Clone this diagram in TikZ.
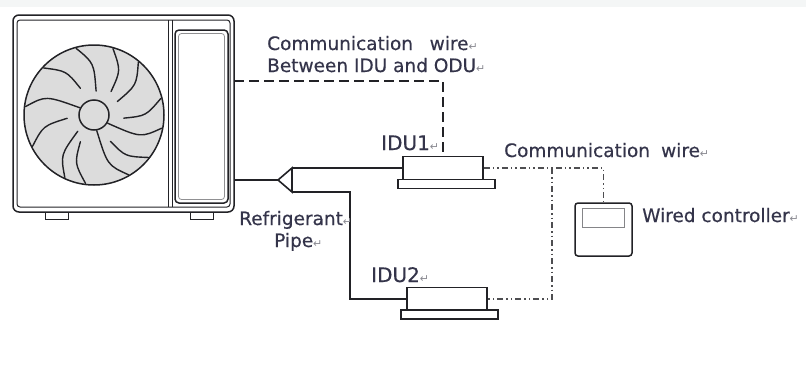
\documentclass[tikz,border=0pt]{standalone}
\usepackage{fontspec}
\setmainfont[FakeBold=0.5]{DejaVu Sans}
\newfontfamily\symfont{DejaVu Sans}
\usetikzlibrary{calc}
\definecolor{ink}{HTML}{222226}
\definecolor{txt}{HTML}{34344A}
\definecolor{fanfill}{HTML}{DCDCDC}
\definecolor{retgray}{HTML}{8A8A92}
\definecolor{band}{HTML}{F4F6F6}
\newcommand\retmark{{\symfont\fontsize{11}{11}\selectfont\color{retgray}↵}}
\tikzset{
  outline/.style={draw=ink, line width=1.5pt},
  thinline/.style={draw=ink, line width=1pt},
  pipe/.style={draw=ink, line width=1.6pt},
  odcomm/.style={draw=ink, line width=1.8pt, dash pattern=on 10pt off 5pt},
  ctrlcomm/.style={draw=ink!80, line width=1.3pt, dash pattern=on 6pt off 3pt on 1.5pt off 3pt on 1.5pt off 3pt},
  iduhead/.style={outline, minimum width=80pt, minimum height=23pt, inner sep=0pt},
  iduplate/.style={outline, minimum width=97pt, minimum height=9pt, inner sep=0pt},
  label/.style={text=txt, inner sep=0pt, anchor=base west, font=\fontsize{18.5}{18.5}\selectfont},
  biglabel/.style={label, font=\fontsize{20}{20}\selectfont},
  blade/.style={draw=ink, line width=1.4pt, line cap=round}
}
\begin{document}
\begin{tikzpicture}[x=1pt,y=-1pt]
\useasboundingbox (0,0) rectangle (806,367);
\fill[band] (0,0) rectangle (806,7);

% outdoor unit casing
\draw[outline, rounded corners=6pt] (13,15) rectangle (234,212);
\draw[thinline, rounded corners=3pt] (17,20) rectangle (230,207);
\draw[thinline] (168,20) -- (168,207);
\draw[thinline] (172,20) -- (172,207);
\draw[outline, rounded corners=4pt] (175,30) rectangle (228,203);
\draw[draw=ink!50, line width=0.8pt, rounded corners=3pt] (178.5,33.5) rectangle (224.5,199.5);
% feet
\draw[thinline] (45,212) rectangle (68,219);
\draw[thinline] (190,212) rectangle (213,219);

% fan: rim, twelve curved blades, hub
\draw[outline, fill=fanfill] (94,115) circle (70);
\begin{scope}[shift={(94,115)}, yscale=-1]
  \foreach \a/\rin in {54/29, 30/27, -6/30, -31/16, -58/31, -80/16,
                       -117/30, -135/23, -173/27, 153/16, 117/30, 85/24} {
    \draw[blade] (\a:\rin) .. controls (\a+5:52) .. (\a+20:69);
  }
\end{scope}
\draw[outline, fill=fanfill] (94,115) circle (15);

% connection points on the outdoor unit
\coordinate (oducomm) at (234,81);
\coordinate (odupipe) at (234,180);

% indoor units
\node[iduhead] (idu1) at (443,168) {};
\node[iduplate] (idu1p) at (446.5,184) {};
\node[iduhead] (idu2) at (447,299) {};
\node[iduplate] (idu2p) at (449.5,314.5) {};

% wired controller
\node[outline, rounded corners=3pt, minimum width=57pt, minimum height=53pt, inner sep=0pt] (ctrl) at (603.5,229.5) {};
\draw[draw=ink!55, line width=1pt] (582,208) rectangle (624,227);

% refrigerant piping with branch joint
\coordinate (tip) at (278,180);
\coordinate (ttop) at (292,168);
\coordinate (tbot) at (292,192);
\coordinate (bend) at (350,192);
\draw[pipe] (odupipe) -- (tip);
\draw[pipe, line join=miter] (tip) -- (ttop) -- (tbot) -- cycle;
\draw[pipe] (ttop) -- (idu1.west);
\draw[pipe] (tbot) -- (bend) |- (idu2.west);

% communication wiring
\draw[odcomm] (oducomm) -| (idu1.north);
\coordinate (jn) at (552,168);
\draw[ctrlcomm] (idu1.east) -| (ctrl.north);
\draw[ctrlcomm] (jn) |- (idu2.east);

% labels
\node[label] (lodu1) at (267,50) {Communication\hspace{0.9em}wire\retmark};
\node[label] (lodu2) at (267,72) {Between IDU and ODU\retmark};
\node[biglabel] (lidu1) at (381,150) {IDU1\retmark};
\node[biglabel] (lidu2) at (371,282) {IDU2\retmark};
\node[label] (lcomm) at (504,157) {Communication\hspace{0.6em}wire\retmark};
\node[label] (lctrl) at (642,222) {Wired controller\retmark};
\node[label] (lref) at (239,225) {Refrigerant\retmark};
\node[label] (lpipe) at (274,247) {Pipe\retmark};
\end{tikzpicture}
\end{document}
